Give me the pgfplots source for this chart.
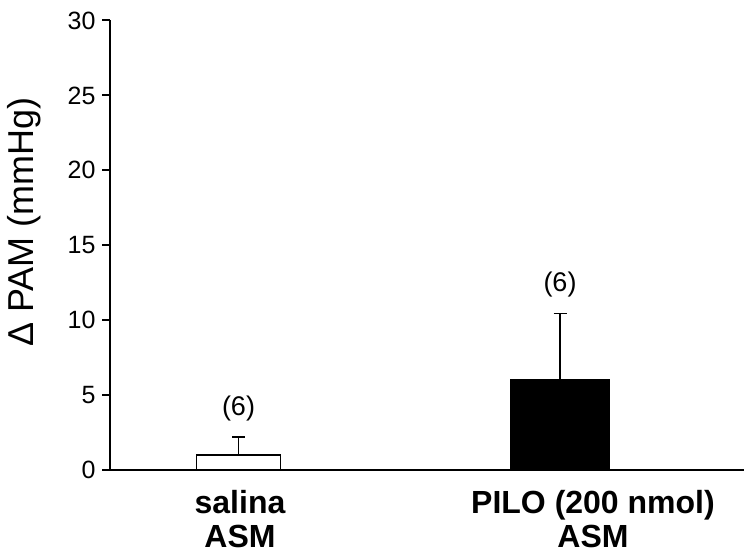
\documentclass[border=0pt]{standalone}
\usepackage{pgfplots}
\pgfplotsset{compat=1.18}
\usepackage{fontspec}
\setmainfont{Liberation Sans}
\begin{document}
\begin{tikzpicture}
\begin{axis}[
  name=ax,
  scale only axis,
  width=317pt, height=224.75pt,
  xmin=110, xmax=744, ymin=0, ymax=30,
  axis x line*=bottom, axis y line*=left,
  axis line style={line width=1pt, black},
  ytick={0,5,...,30},
  tick align=outside,
  major tick length=3.75pt,
  ytick style={line width=1pt, black},
  xtick={240,593},
  xticklabels={salina\\ASM, PILO (200 nmol)\\ASM},
  xtick style={draw=none},
  xticklabel style={align=center, font=\fontsize{16}{17}\selectfont\bfseries, yshift=-3pt},
  yticklabel style={font=\fontsize{12.5}{14}\selectfont},
  /pgf/number format/assume math mode=true,
  clip=false,
]
\addplot[ybar, bar width=84.7, bar shift=0pt, fill=white, draw=black, line width=0.6pt,
  error bars/.cd, y dir=plus, y explicit,
  error bar style={line width=0.6pt, black},
  error mark options={rotate=90, mark size=3.25pt, line width=0.6pt, black}]
  coordinates {(238.5,1.0) +- (0,1.2)};
\addplot[ybar, bar width=98, bar shift=0pt, fill=black, draw=black, line width=0.6pt,
  error bars/.cd, y dir=plus, y explicit,
  error bar style={line width=0.6pt, black},
  error mark options={rotate=90, mark size=3.25pt, line width=0.6pt, black}]
  coordinates {(560,6.05) +- (0,4.4)};
\node[font=\fontsize{13.5}{15}\selectfont] at (axis cs:238.5,4.1) {(6)};
\node[font=\fontsize{13.5}{15}\selectfont] at (axis cs:560,12.35) {(6)};
\node[rotate=90, anchor=base, font=\fontsize{18}{21}\selectfont] at ([xshift=-38pt]rel axis cs:0,0.552) {Δ PAM (mmHg)};
\end{axis}
\pgfresetboundingbox
\path[use as bounding box] ([xshift=-55pt,yshift=-42pt]ax.south west) rectangle ([yshift=10.25pt]ax.north east);
\end{tikzpicture}
\end{document}
